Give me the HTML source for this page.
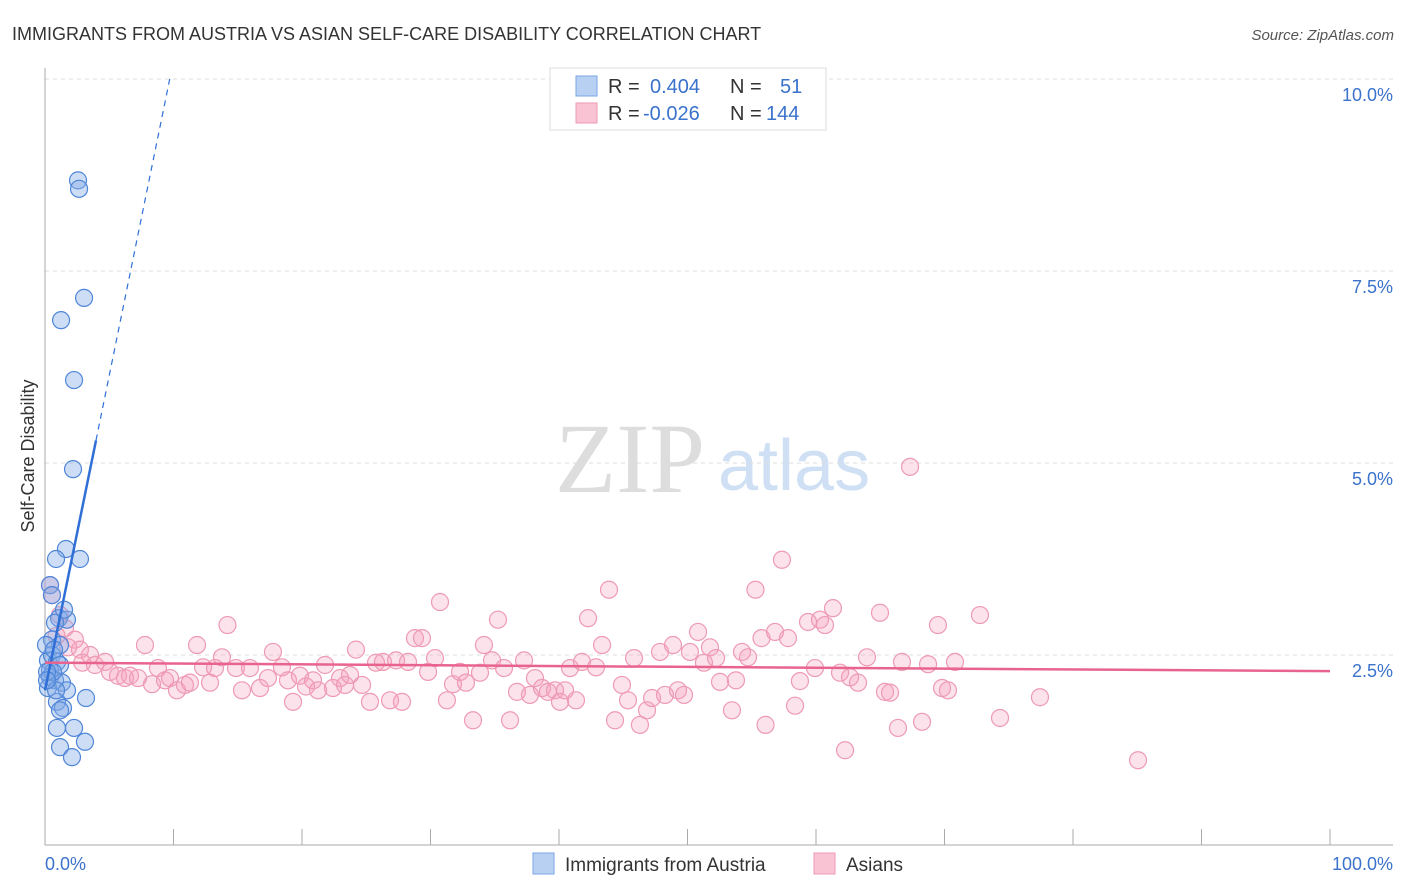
<!DOCTYPE html>
<html><head><meta charset="utf-8"><style>
body{margin:0;background:#fff;font-family:"Liberation Sans",sans-serif;}
#wrap{position:relative;width:1406px;height:892px;overflow:hidden}
</style></head><body>
<div id="wrap">
<svg id="svg" width="1406" height="892" xmlns="http://www.w3.org/2000/svg">
<text x="12" y="40" font-size="18" fill="#333">IMMIGRANTS FROM AUSTRIA VS ASIAN SELF-CARE DISABILITY CORRELATION CHART</text>
<text x="1394" y="40" font-size="15" fill="#555" font-style="italic" text-anchor="end">Source: ZipAtlas.com</text>
<text x="555" y="492" font-size="100" fill="#ddd" font-family="Liberation Serif,serif">ZIP</text>
<text x="718" y="490" font-size="72" fill="#cfe0f5">atlas</text>
<text transform="translate(34,456) rotate(-90)" font-size="18" fill="#333" text-anchor="middle">Self-Care Disability</text>
<g id="grid"></g><g id="pts"></g><g id="lines"></g>
<g>
<rect x="550" y="68" width="276" height="62" fill="#fff" stroke="#ddd"/>
<rect x="576" y="76" width="21" height="20" fill="#b8d1f3" stroke="#7aa6e6"/>
<rect x="576" y="103" width="21" height="20" fill="#f9c3d3" stroke="#ee9ab4"/>
<text x="608" y="93" font-size="20" fill="#333">R =</text><text x="650" y="93" font-size="20" fill="#3a72cc">0.404</text>
<text x="730" y="93" font-size="20" fill="#333">N =</text><text x="780" y="93" font-size="20" fill="#3a72cc">51</text>
<text x="608" y="120" font-size="20" fill="#333">R =</text><text x="643" y="120" font-size="20" fill="#3a72cc">-0.026</text>
<text x="730" y="120" font-size="20" fill="#333">N =</text><text x="766" y="120" font-size="20" fill="#3a72cc">144</text>
</g>
<g>
<rect x="533" y="853" width="21" height="21" fill="#b8d1f3" stroke="#7aa6e6"/>
<text x="565" y="871" font-size="19" fill="#333">Immigrants from Austria</text>
<rect x="814" y="853" width="21" height="21" fill="#f9c3d3" stroke="#ee9ab4"/>
<text x="846" y="871" font-size="19" fill="#333">Asians</text>
</g>
<text x="45" y="870" font-size="18" fill="#3a72cc">0.0%</text>
<text x="1393" y="870" font-size="18" fill="#3a72cc" text-anchor="end">100.0%</text>
</svg></div>
<script>
const yTicks=[2.5,5,7.5,10];
const yTickLabels=["2.5%","5.0%","7.5%","10.0%"];
const blueX=[2.57,2.65,3.04,1.25,2.26,2.18,1.63,0.86,2.72,0.39,0.54,1.09,1.71,0.78,0.54,1.17,0.23,0.54,0.93,0.39,1.17,0.39,0.78,1.32,0.23,1.71,3.19,0.93,1.40,1.17,0.93,2.26,3.11,1.17,2.10,0.62,0.16,0.86,0.08,1.48,0.70,0.16];
const blueY=[8.68,8.57,7.15,6.86,6.08,4.92,3.88,3.75,3.75,3.41,3.28,2.98,2.96,2.92,2.70,2.63,2.43,2.50,2.41,2.30,2.37,2.21,2.17,2.14,2.07,2.04,1.94,1.89,1.81,1.78,1.55,1.55,1.37,1.30,1.17,2.28,2.28,2.04,2.63,3.09,2.57,2.17];
const pinkX=[0.39,0.54,1.17,1.56,2.33,2.72,3.50,3.89,4.67,5.06,5.68,6.23,6.61,7.24,7.78,8.33,8.79,9.34,9.73,10.27,10.89,11.28,11.83,12.30,12.84,13.23,13.77,14.20,14.86,15.33,15.95,16.73,17.35,17.74,18.44,18.91,19.30,19.84,20.31,20.86,21.25,21.79,22.41,22.96,23.35,23.74,24.20,24.67,25.29,25.76,26.30,26.85,27.32,27.78,28.25,28.79,29.34,29.81,30.35,30.74,31.28,31.75,32.30,32.76,33.31,33.85,34.16,34.79,35.25,35.72,36.19,36.73,37.28,37.74,38.13,38.68,39.14,39.69,40.08,40.47,40.86,41.32,41.79,42.26,42.88,43.35,43.89,44.36,44.90,45.37,45.84,46.30,46.85,47.24,47.86,48.25,48.87,49.26,49.73,50.19,50.82,51.28,51.75,52.22,52.53,53.46,53.77,54.24,54.71,55.29,55.76,56.07,56.81,57.35,57.82,58.37,58.75,59.38,59.92,60.31,60.70,61.32,61.87,62.26,62.65,63.27,63.97,64.98,65.37,65.76,66.38,66.69,67.32,68.25,68.72,69.49,69.81,70.27,70.82,72.76,74.32,77.43,85.06,1.8,2.9,0.9];
const pinkY=[3.41,3.28,3.02,2.85,2.70,2.57,2.50,2.37,2.41,2.28,2.23,2.20,2.23,2.20,2.63,2.12,2.33,2.17,2.20,2.04,2.11,2.14,2.63,2.34,2.14,2.33,2.47,2.89,2.33,2.04,2.33,2.07,2.20,2.54,2.34,2.17,1.89,2.23,2.09,2.17,2.04,2.37,2.07,2.20,2.11,2.24,2.57,2.11,1.89,2.40,2.41,1.91,2.43,1.89,2.41,2.72,2.72,2.28,2.46,3.19,1.91,2.12,2.28,2.14,1.65,2.27,2.63,2.43,2.96,2.33,1.65,2.02,2.43,1.98,2.20,2.07,2.02,2.04,1.89,2.04,2.33,1.91,2.41,2.98,2.34,2.63,3.35,1.65,2.11,1.91,2.46,1.59,1.78,1.94,2.54,1.98,2.63,2.04,1.98,2.54,2.80,2.40,2.60,2.46,2.15,1.78,2.17,2.54,2.47,3.35,2.72,1.59,2.80,3.74,2.72,1.84,2.16,2.93,2.33,2.96,2.89,3.11,2.27,1.26,2.21,2.14,2.47,3.05,2.02,2.01,1.55,2.41,4.95,1.63,2.38,2.89,2.07,2.04,2.41,3.02,1.68,1.95,1.13,2.6,2.4,2.75];
const blueFit=[2.04,0.82];
const pinkFit=[2.40,-0.0011];
const NS="http://www.w3.org/2000/svg";
const sx=v=>45+v*12.85, sy=v=>847-v*76.8;
function mk(tag,attrs,parent){const e=document.createElementNS(NS,tag);for(const k in attrs)e.setAttribute(k,attrs[k]);parent.appendChild(e);return e;}
const grid=document.getElementById('grid');
yTicks.forEach((t,i)=>{
 const l=mk('line',{x1:45,x2:1393,y1:sy(t),y2:sy(t),stroke:'#ddd','stroke-dasharray':'4,4'},grid);
 
 
 const tx=mk('text',{x:1393,y:sy(t)+22,'font-size':18,fill:'#3a72cc','text-anchor':'end'},grid);
 tx.textContent=yTickLabels[i];
 
 
});
const ax=mk('line',{x1:45,x2:45,y1:68,y2:845,stroke:'#aaa'},grid);


const bx=mk('line',{x1:45,x2:1393,y1:845,y2:845,stroke:'#aaa'},grid);


for(let i=0;i<=10;i++){const t=mk('line',{x1:sx(i*10),x2:sx(i*10),y1:829,y2:845,stroke:'#aaa'},grid);
 
 }
const pts=document.getElementById('pts');
pinkX.forEach((x,i)=>{const c=mk('circle',{cx:sx(x),cy:sy(pinkY[i]),r:8.5,fill:'rgba(245,160,190,0.3)',stroke:'#ee9ab4','stroke-width':1.2},pts);
 
 });
blueX.forEach((x,i)=>{const c=mk('circle',{cx:sx(x),cy:sy(blueY[i]),r:8.5,fill:'rgba(130,170,230,0.4)',stroke:'#4f86d8','stroke-width':1.2},pts);
 
 });
const lines=document.getElementById('lines');
const bf=x=>blueFit[0]+blueFit[1]*x, pf=x=>pinkFit[0]+pinkFit[1]*x;
let l1=mk('line',{x1:sx(0),y1:sy(bf(0)),x2:sx(3.97),y2:sy(bf(3.97)),stroke:'#2f6fd6','stroke-width':2.5},lines);


const xe=(10-blueFit[0])/blueFit[1];
let l2=mk('line',{x1:sx(3.97),y1:sy(bf(3.97)),x2:sx(xe),y2:sy(10),stroke:'#2f6fd6','stroke-width':1.2,'stroke-dasharray':'6,5'},lines);


let l3=mk('line',{x1:sx(0),y1:sy(pf(0)),x2:sx(100),y2:sy(pf(100)),stroke:'#e8648f','stroke-width':2.5},lines);


</script>
</body></html>
